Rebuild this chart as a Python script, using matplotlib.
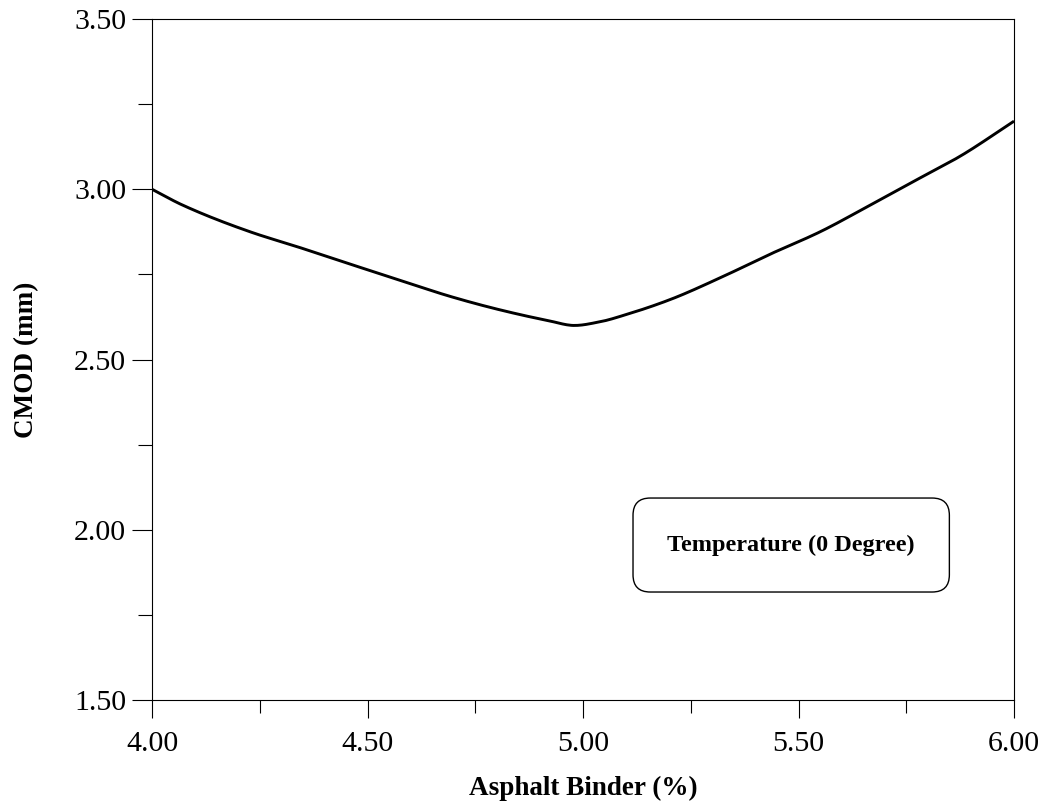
import numpy as np
import matplotlib
matplotlib.use("Agg")
import matplotlib.pyplot as plt
from matplotlib.patches import FancyBboxPatch
from matplotlib.ticker import MultipleLocator, FormatStrFormatter

plt.rcParams['font.family'] = ['Liberation Serif', 'DejaVu Serif']

# CMOD versus asphalt binder content at 0 degrees
binder = [4.00, 4.07, 4.23, 4.34, 4.46, 4.58, 4.69, 4.81, 4.92, 4.98,
          5.04, 5.10, 5.20, 5.32, 5.43, 5.55, 5.66, 5.77, 5.875, 6.00]
cmod = [3.000, 2.954, 2.874, 2.830, 2.780, 2.731, 2.686, 2.645, 2.614, 2.600,
        2.611, 2.632, 2.675, 2.741, 2.807, 2.875, 2.949, 3.025, 3.097, 3.20]

x_label = "Asphalt Binder (%)"
y_label = "CMOD (mm)"
note = "Temperature (0 Degree)"


def pchip_curve(x, y, n=400):
    """Shape-preserving cubic Hermite curve through the given points."""
    x = np.asarray(x, float)
    y = np.asarray(y, float)
    h = np.diff(x)
    d = np.diff(y) / h
    m = np.zeros_like(x)
    for k in range(1, len(x) - 1):
        if d[k - 1] * d[k] > 0:
            w1 = 2 * h[k] + h[k - 1]
            w2 = h[k] + 2 * h[k - 1]
            m[k] = (w1 + w2) / (w1 / d[k - 1] + w2 / d[k])
    m[0] = d[0]
    m[-1] = d[-1]
    xs = np.linspace(x[0], x[-1], n)
    idx = np.clip(np.searchsorted(x, xs) - 1, 0, len(x) - 2)
    t = (xs - x[idx]) / h[idx]
    h00 = 2 * t**3 - 3 * t**2 + 1
    h10 = t**3 - 2 * t**2 + t
    h01 = -2 * t**3 + 3 * t**2
    h11 = t**3 - t**2
    ys = (h00 * y[idx] + h10 * h[idx] * m[idx]
          + h01 * y[idx + 1] + h11 * h[idx] * m[idx + 1])
    return xs, ys


fig = plt.figure(figsize=(10.47, 8.05), dpi=100)
ax = fig.add_axes([0.1452, 0.1304, 0.8233, 0.8460])

xs, ys = pchip_curve(binder, cmod)
ax.plot(xs, ys, color='black', linewidth=2.1, solid_capstyle='butt')

ax.set_xlim(4.0, 6.0)
ax.set_ylim(1.5, 3.5)
ax.xaxis.set_major_locator(MultipleLocator(0.5))
ax.xaxis.set_minor_locator(MultipleLocator(0.25))
ax.yaxis.set_major_locator(MultipleLocator(0.5))
ax.yaxis.set_minor_locator(MultipleLocator(0.25))
ax.xaxis.set_major_formatter(FormatStrFormatter('%.2f'))
ax.yaxis.set_major_formatter(FormatStrFormatter('%.2f'))

ax.tick_params(which='major', direction='out', width=0.8,
               labelsize=21.5, top=False, right=False)
ax.tick_params(which='minor', direction='out', width=0.8,
               top=False, right=False)
ax.tick_params(axis='x', which='major', length=13, pad=9)
ax.tick_params(axis='x', which='minor', length=9.5)
ax.tick_params(axis='y', which='major', length=14.5, pad=4)
ax.tick_params(axis='y', which='minor', length=10)
for s in ax.spines.values():
    s.set_linewidth(0.8)

ax.set_xlabel(x_label, fontsize=19.5, fontweight='bold', labelpad=14)
ax.set_ylabel(y_label, fontsize=19.5, fontweight='bold', labelpad=25)

box = FancyBboxPatch((0.558, 0.1586), 0.925 - 0.558, 0.2966 - 0.1586,
                     boxstyle="round,pad=0,rounding_size=0.02",
                     mutation_aspect=862 / 681,
                     transform=ax.transAxes, facecolor='white',
                     edgecolor='black', linewidth=1.0)
ax.add_patch(box)
ax.text((0.558 + 0.925) / 2, (0.1586 + 0.2966) / 2, note,
        transform=ax.transAxes, ha='center', va='center',
        fontsize=17.5, fontweight='bold')

fig.savefig("out.png", dpi=100)
